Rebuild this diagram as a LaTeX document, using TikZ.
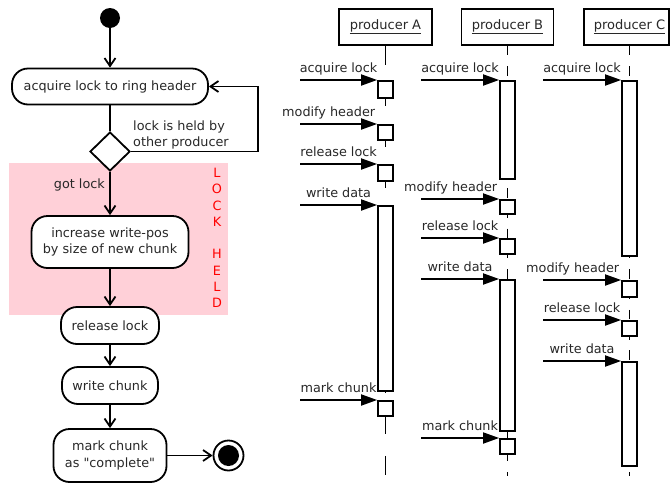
\documentclass[tikz,border=0pt]{standalone}
\usepackage{fontspec}
% plain family: no TeX ligature mapping, so " stays a straight quote
\newfontfamily\diagfont{DejaVu Sans}
\usetikzlibrary{arrows.meta,shapes.geometric}
\definecolor{lockpink}{RGB}{255,208,216}
\definecolor{inktext}{RGB}{40,40,40}
\begin{document}
\begin{tikzpicture}[x=1pt,y=-1pt,
  font=\diagfont\fontsize{12.8}{16.5}\selectfont,
  lw/.style={line width=1.8pt},
  action/.style={draw, lw, fill=white, rounded corners=16pt, align=center, inner sep=0pt, text=inktext},
  decision/.style={diamond, draw, lw, fill=white, minimum width=40pt, minimum height=39pt, inner sep=0pt},
  startdot/.style={circle, fill=black, minimum size=20pt, inner sep=0pt},
  endmark/.style={circle, draw, lw, fill=white, minimum size=30pt, inner sep=0pt,
    path picture={\fill[black] (path picture bounding box.center) circle[radius=10.5pt];}},
  flowarrow/.style={lw, -{Straight Barb[length=8pt,width=11pt]}},
  note/.style={text=inktext, inner sep=0pt},
  held/.style={text=red, inner sep=0pt},
  header/.style={draw, lw, fill=white, minimum height=36pt, inner sep=0pt, text=inktext,
    font=\diagfont\fontsize{13}{16}\selectfont},
  lifeA/.style={lw, dash pattern=on 19.5pt off 21.5pt},
  lifeBC/.style={lw, dash pattern=on 9.5pt off 10.8pt},
  act/.style={draw, lw, fill=white, minimum width=15pt, inner sep=0pt, anchor=north},
  msg/.style={lw, -{Triangle[length=16pt,width=11pt]}},
  lbl/.style={anchor=base, yshift=8pt, text=inktext, inner sep=0pt}]
\useasboundingbox (0,0) rectangle (670,483);

% ---------- activity diagram ----------
\fill[lockpink] (9,163) rectangle (228,315);

\node[startdot] (start) at (110,18) {};
\node[action, minimum width=196pt, minimum height=36pt] (acq) at (110,86.5) {acquire lock to ring header};
\node[decision] (dec) at (110,151.5) {};
\node[action, minimum width=157pt, minimum height=52pt] (inc) at (110,242) {increase write-pos\\by size of new chunk};
\node[action, minimum width=98pt, minimum height=37pt] (rel) at (110,325.5) {release lock};
\node[action, minimum width=96pt, minimum height=37pt] (wr) at (110,385.5) {write chunk};
\node[action, minimum width=113pt, minimum height=53pt] (mark) at (110,455.5) {mark chunk\\as "complete"};
\node[endmark] (stop) at (228.5,455.5) {};

\draw[flowarrow] (start) -- (acq);
\draw[lw] (acq) -- (dec);
\draw[flowarrow] (dec) -- (inc);
\draw[flowarrow] (dec.east) -- ++(127,0) |- (acq.east);
\draw[flowarrow] (inc) -- (rel);
\draw[flowarrow] (rel) -- (wr);
\draw[flowarrow] (wr) -- (mark);
\draw[flowarrow] (mark) -- (stop);

\node[note, anchor=west, align=left] (heldlbl) at (133,135) {lock is held by\\other producer};
\node[note, anchor=base east] (gotlbl) at (105,188.5) {got lock};

\foreach \ch [count=\i from 0] in {L,O,C,K,,H,E,L,D}
  \node[held] (lh\i) at (217,173+16.25*\i) {\ch};

% ---------- sequence diagram ----------
\node[header, minimum width=92.5pt] (hA) at (385.5,27) {\underline{producer A}};
\node[header, minimum width=92pt] (hB) at (507.5,27) {\underline{producer B}};
\node[header, minimum width=85pt] (hC) at (626.5,27) {\hspace*{6pt}\underline{producer C}};

\coordinate (endA) at (385.5,475);
\coordinate (endB) at (507.5,476);
\coordinate (endC) at (629.5,476);
\draw[lifeA] (endA |- hA.south) -- (endA);
\draw[lifeBC] (endB |- hB.south) -- (endB);
\draw[lifeBC] (endC |- hC.south) -- (endC);

% activations of producer A
\node[act, minimum height=17pt] (A1) at (385.5,80) {};
\node[act, minimum height=15pt] (A2) at (385.5,124) {};
\node[act, minimum height=16pt] (A3) at (385.5,164) {};
\node[act, minimum height=185pt] (A4) at (385.5,205) {};
\node[act, minimum height=15pt] (A5) at (385.5,400) {};
% activations of producer B
\node[act, minimum height=98pt] (B1) at (507.5,80) {};
\node[act, minimum height=14pt] (B2) at (507.5,199) {};
\node[act, minimum height=15pt] (B3) at (507.5,238) {};
\node[act, minimum height=151pt] (B4) at (507.5,279) {};
\node[act, minimum height=15pt] (B5) at (507.5,438) {};
% activations of producer C
\node[act, minimum height=175pt] (C1) at (629.5,80) {};
\node[act, minimum height=16pt] (C2) at (629.5,280) {};
\node[act, minimum height=15pt] (C3) at (629.5,320) {};
\node[act, minimum height=104pt] (C4) at (629.5,361) {};

% incoming calls
\coordinate (A1in) at (300,80);
\coordinate (A2in) at (300,124);
\coordinate (A3in) at (300,164);
\coordinate (A4in) at (300,205);
\coordinate (A5in) at (300,400);
\coordinate (B1in) at (421,80);
\coordinate (B2in) at (421,199);
\coordinate (B3in) at (421,238);
\coordinate (B4in) at (421,279);
\coordinate (B5in) at (421,438);
\coordinate (C1in) at (543,80);
\coordinate (C2in) at (543,280);
\coordinate (C3in) at (543,320);
\coordinate (C4in) at (543,361);

\draw[msg] (A1in) -- (A1.north west) node[lbl, midway] {acquire lock};
\draw[msg] (A2in) -- (A2.north west) node[lbl, pos=1, anchor=base east, xshift=-1pt] {modify header};
\draw[msg] (A3in) -- (A3.north west) node[lbl, midway] {release lock};
\draw[msg] (A4in) -- (A4.north west) node[lbl, midway] {write data};
\draw[msg] (A5in) -- (A5.north west) node[lbl, midway] {mark chunk};

\draw[msg] (B1in) -- (B1.north west) node[lbl, midway] {acquire lock};
\draw[msg] (B2in) -- (B2.north west) node[lbl, pos=1, anchor=base east, xshift=-1pt] {modify header};
\draw[msg] (B3in) -- (B3.north west) node[lbl, midway] {release lock};
\draw[msg] (B4in) -- (B4.north west) node[lbl, midway] {write data};
\draw[msg] (B5in) -- (B5.north west) node[lbl, midway] {mark chunk};

\draw[msg] (C1in) -- (C1.north west) node[lbl, midway] {acquire lock};
\draw[msg] (C2in) -- (C2.north west) node[lbl, pos=1, anchor=base east, xshift=-1pt] {modify header};
\draw[msg] (C3in) -- (C3.north west) node[lbl, midway] {release lock};
\draw[msg] (C4in) -- (C4.north west) node[lbl, midway] {write data};
\end{tikzpicture}
\end{document}
